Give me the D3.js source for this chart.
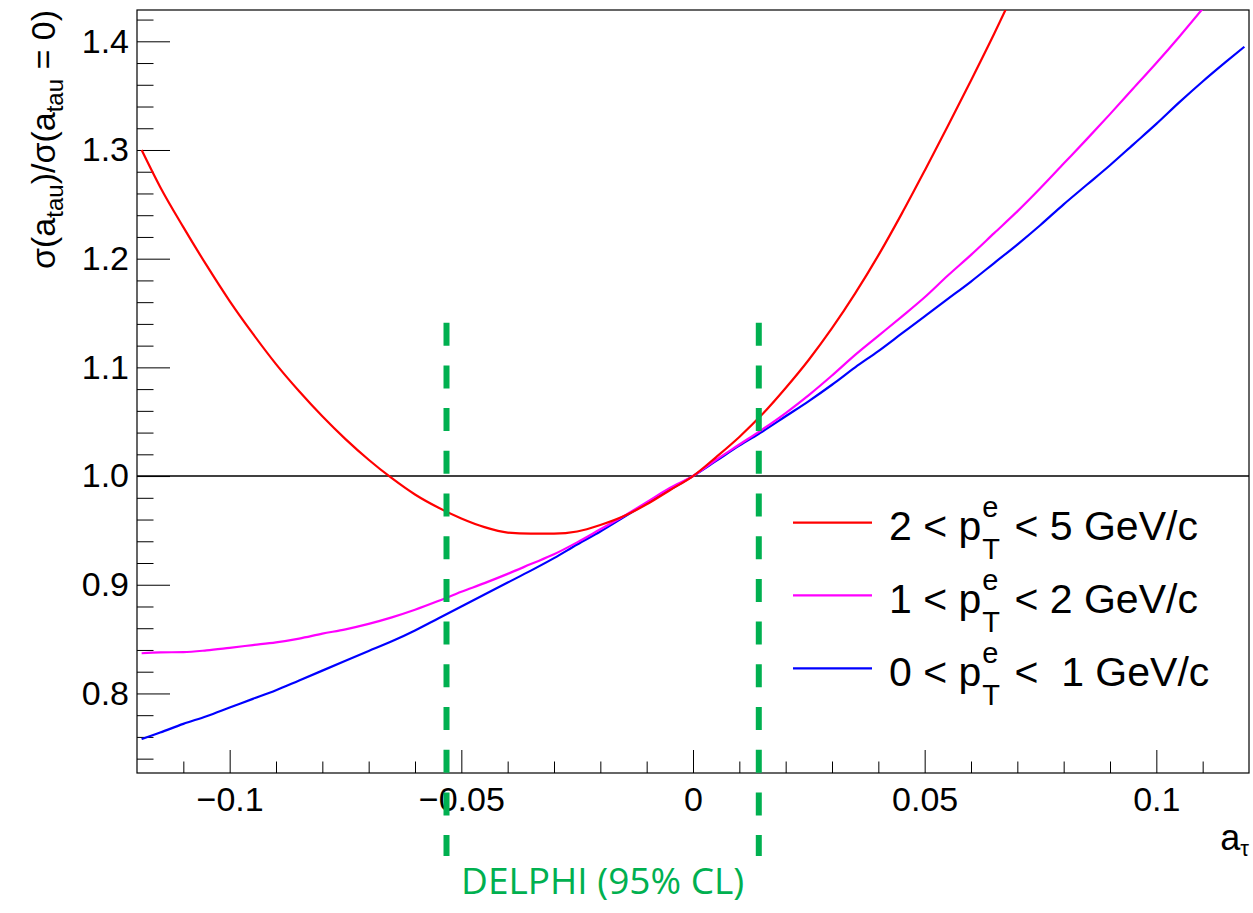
<!DOCTYPE html>
<html>
<head>
<meta charset="utf-8">
<script src="https://cdn.jsdelivr.net/npm/d3@7"></script>
<style>
  html, body { margin: 0; padding: 0; background: #fff; }
  svg { display: block; }
  text { white-space: pre; }
</style>
</head>
<body>
<svg id="chart" width="1253" height="913"></svg>
<script>
// ---------------- data ----------------
const aTau = [-0.119, -0.115, -0.110, -0.105, -0.100, -0.095, -0.090, -0.085, -0.080, -0.075,
  -0.070, -0.065, -0.060, -0.055, -0.050, -0.045, -0.040, -0.035, -0.030, -0.025,
  -0.020, -0.015, -0.010, -0.005, 0.000, 0.005, 0.010, 0.015, 0.020, 0.025,
  0.030, 0.035, 0.040, 0.045, 0.050, 0.055, 0.060, 0.065, 0.070, 0.075,
  0.080, 0.085, 0.090, 0.095, 0.100, 0.105, 0.110, 0.115, 0.119];

const ratioPt2to5 = [1.300, 1.266, 1.229, 1.194, 1.161, 1.131, 1.103, 1.078, 1.055, 1.034,
  1.015, 0.998, 0.983, 0.971, 0.961, 0.953, 0.948, 0.947, 0.947, 0.949,
  0.955, 0.963, 0.974, 0.987, 1.000, 1.0175, 1.036, 1.057, 1.081, 1.107,
  1.136, 1.168, 1.203, 1.241, 1.281, 1.322, 1.364, 1.407, 1.452];

const ratioPt1to2 = [0.837, 0.8378, 0.838, 0.8396, 0.842, 0.8445, 0.847, 0.8505, 0.855, 0.859,
  0.864, 0.870, 0.877, 0.885, 0.8935, 0.9015, 0.910, 0.919, 0.928, 0.939,
  0.951, 0.963, 0.976, 0.989, 1.000, 1.015, 1.029, 1.043, 1.058, 1.0745,
  1.0925, 1.1115, 1.129, 1.1465, 1.1645, 1.1845, 1.2035, 1.2235, 1.2435, 1.265,
  1.2875, 1.310, 1.333, 1.3565, 1.380, 1.4045, 1.430, 1.456];

const ratioPt0to1 = [0.758, 0.764, 0.772, 0.779, 0.787, 0.795, 0.803, 0.812, 0.821, 0.830,
  0.839, 0.848, 0.858, 0.869, 0.880, 0.891, 0.902, 0.913, 0.9245, 0.937,
  0.949, 0.962, 0.975, 0.9875, 1.000, 1.014, 1.028, 1.041, 1.055, 1.069,
  1.084, 1.100, 1.115, 1.131, 1.147, 1.163, 1.179, 1.196, 1.213, 1.231,
  1.250, 1.268, 1.286, 1.305, 1.324, 1.344, 1.363, 1.381, 1.395];

const seriesNames = ["2 < ", "1 < ", "0 < "];
const seriesTails = [" < 5 GeV/c", " < 2 GeV/c", " <  1 GeV/c"];
const seriesColors = ["#ff0000", "#ff00ff", "#0000ff"];

const xMajorTicks = [-0.1, -0.05, 0, 0.05, 0.1];
const xTickLabels = ["\u22120.1", "\u22120.05", "0", "0.05", "0.1"];
const xMinorTicks = [-0.11, -0.09, -0.08, -0.07, -0.06, -0.04, -0.03, -0.02, -0.01,
  0.01, 0.02, 0.03, 0.04, 0.06, 0.07, 0.08, 0.09, 0.11];
const yMajorTicks = [0.8, 0.9, 1.0, 1.1, 1.2, 1.3, 1.4];
const yTickLabels = ["0.8", "0.9", "1.0", "1.1", "1.2", "1.3", "1.4"];
const yMinorTicks = [0.74, 0.76, 0.78, 0.82, 0.84, 0.86, 0.88, 0.92, 0.94, 0.96, 0.98,
  1.02, 1.04, 1.06, 1.08, 1.12, 1.14, 1.16, 1.18, 1.22, 1.24, 1.26, 1.28,
  1.32, 1.34, 1.36, 1.38, 1.42];

const delphiLimits = [-0.0532, 0.0142];
const delphiLabel = "DELPHI (95% CL)";
const xDomain = [-0.12, 0.12];
const yDomain = [0.7268, 1.4288];

// ---------------- layout ----------------
const L = 137, R = 1249, T = 10, B = 773;
const svg = d3.select("#chart");
const x = d3.scaleLinear().domain(xDomain).range([L, R]);
const y = d3.scaleLinear().domain(yDomain).range([B, T]);
const FONT = "'Liberation Sans', Arial, Helvetica, sans-serif";

svg.append("defs").append("clipPath").attr("id", "plotclip")
  .append("rect").attr("x", L).attr("y", T).attr("width", R - L).attr("height", B - T);

// y axis
const yAxis = d3.axisLeft(y).tickValues(yMajorTicks)
  .tickFormat((d, i) => yTickLabels[i]).tickSizeInner(-33).tickSizeOuter(0).tickPadding(8);
const gy = svg.append("g").attr("transform", `translate(${L},0)`).call(yAxis);
gy.select(".domain").remove();
gy.selectAll("line").attr("stroke", "#000").attr("stroke-width", 1);
gy.selectAll("text").attr("font-family", FONT).attr("font-size", 34).attr("fill", "#000");

const yAxisMinor = d3.axisLeft(y).tickValues(yMinorTicks).tickFormat("")
  .tickSizeInner(-16.5).tickSizeOuter(0);
const gym = svg.append("g").attr("transform", `translate(${L},0)`).call(yAxisMinor);
gym.select(".domain").remove();
gym.selectAll("line").attr("stroke", "#000").attr("stroke-width", 1);

// x axis
const xAxis = d3.axisBottom(x).tickValues(xMajorTicks)
  .tickFormat((d, i) => xTickLabels[i]).tickSizeInner(-23).tickSizeOuter(0).tickPadding(14);
const gx = svg.append("g").attr("transform", `translate(0,${B})`).call(xAxis);
gx.select(".domain").remove();
gx.selectAll("line").attr("stroke", "#000").attr("stroke-width", 1);
gx.selectAll("text").attr("font-family", FONT).attr("font-size", 34).attr("fill", "#000");

const xAxisMinor = d3.axisBottom(x).tickValues(xMinorTicks).tickFormat("")
  .tickSizeInner(-11.5).tickSizeOuter(0);
const gxm = svg.append("g").attr("transform", `translate(0,${B})`).call(xAxisMinor);
gxm.select(".domain").remove();
gxm.selectAll("line").attr("stroke", "#000").attr("stroke-width", 1);

// frame
svg.append("rect").attr("x", L).attr("y", T).attr("width", R - L).attr("height", B - T)
  .attr("fill", "none").attr("stroke", "#000").attr("stroke-width", 1.2);

// reference line at 1
svg.append("line").attr("x1", L).attr("x2", R).attr("y1", y(1)).attr("y2", y(1))
  .attr("stroke", "#000").attr("stroke-width", 1.5);

// curves
const line = d3.line().x(d => x(d[0])).y(d => y(d[1])).curve(d3.curveMonotoneX);
const allSeries = [ratioPt2to5, ratioPt1to2, ratioPt0to1];
const plot = svg.append("g").attr("clip-path", "url(#plotclip)");
[2, 1, 0].forEach(k => {
  const pts = allSeries[k].map((v, i) => [aTau[i], v]);
  plot.append("path").attr("d", line(pts)).attr("fill", "none")
    .attr("stroke", seriesColors[k]).attr("stroke-width", 2.2);
});

// DELPHI dashed lines
delphiLimits.forEach(v => {
  svg.append("line").attr("x1", x(v)).attr("x2", x(v)).attr("y1", 322.7).attr("y2", 856)
    .attr("stroke", "#00b050").attr("stroke-width", 6).attr("stroke-dasharray", "23,19.7");
});
svg.append("text").attr("x", (x(delphiLimits[0]) + x(delphiLimits[1])) / 2).attr("y", 894)
  .attr("text-anchor", "middle").attr("font-family", "'Open Sans', 'Noto Sans', sans-serif")
  .attr("font-size", 37).attr("fill", "#00b050").text(delphiLabel);

// legend
const legX0 = 793, legX1 = 872, legTextX = 889;
const legRows = [522.7, 595.3, 668.3];
const LFS = 41;
seriesNames.forEach((nm, k) => {
  const yy = legRows[k];
  svg.append("line").attr("x1", legX0).attr("x2", legX1).attr("y1", yy).attr("y2", yy)
    .attr("stroke", seriesColors[k]).attr("stroke-width", 2.2);
  const base = yy + 17.5;
  const t1 = svg.append("text").attr("x", legTextX).attr("y", base)
    .attr("font-family", FONT).attr("font-size", LFS).attr("fill", "#000").text(nm + "p");
  const w1 = t1.node().getComputedTextLength();
  const sx = legTextX + w1 + 1;
  const te = svg.append("text").attr("x", sx).attr("y", base - 23)
    .attr("font-family", FONT).attr("font-size", 29).attr("fill", "#000").text("e");
  const tT = svg.append("text").attr("x", sx).attr("y", base + 19)
    .attr("font-family", FONT).attr("font-size", 29).attr("fill", "#000").text("T");
  const ws = Math.max(te.node().getComputedTextLength(), tT.node().getComputedTextLength());
  svg.append("text").attr("x", sx + ws + 3).attr("y", base)
    .attr("font-family", FONT).attr("font-size", LFS).attr("fill", "#000").text(seriesTails[k]);
});

// y axis title
const yt = svg.append("text").attr("transform", "translate(55,10) rotate(-90)")
  .attr("text-anchor", "end").attr("font-family", FONT).attr("font-size", 34).attr("fill", "#000");
yt.append("tspan").text("\u03c3(a");
yt.append("tspan").attr("font-size", 24).attr("dy", 8).text("tau");
yt.append("tspan").attr("dy", -8).text(")/\u03c3(a");
yt.append("tspan").attr("font-size", 24).attr("dy", 8).text("tau");
yt.append("tspan").attr("dy", -8).text(" = 0)");

// x axis title
const xt = svg.append("text").attr("x", R).attr("y", 850).attr("text-anchor", "end")
  .attr("font-family", FONT).attr("font-size", 36).attr("fill", "#000");
xt.append("tspan").text("a");
xt.append("tspan").attr("font-size", 22).attr("dy", 6).text("\u03c4");
</script>
</body>
</html>
